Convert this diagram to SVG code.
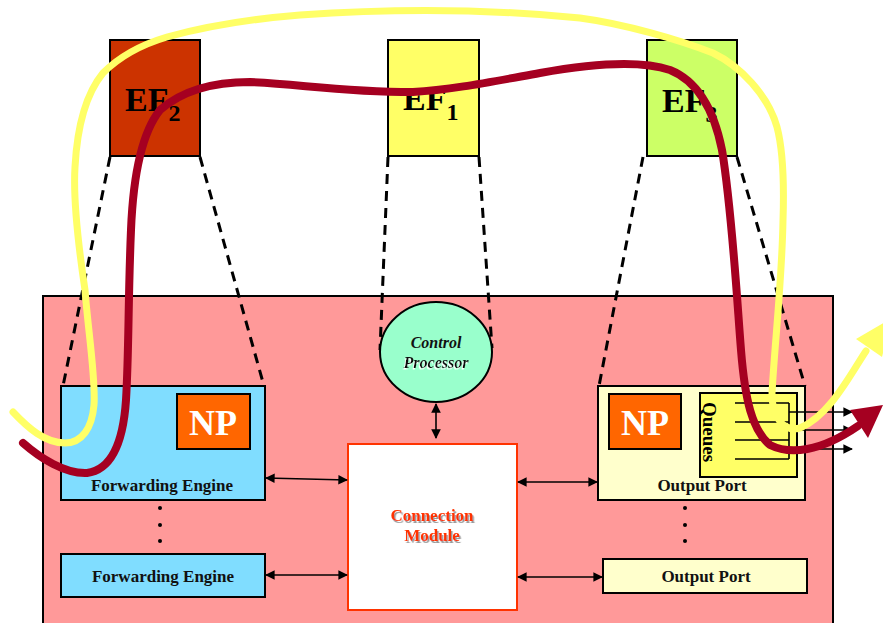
<svg xmlns="http://www.w3.org/2000/svg" width="883" height="623" viewBox="0 0 883 623">
  <style>
    .box { stroke: #000; stroke-width: 2; }
    .ef { font-family: "Liberation Serif", serif; font-weight: bold; fill: #000; }
    .lbl { font-family: "Liberation Serif", serif; font-weight: bold; font-size: 17px; fill: #111; text-anchor: middle; }
    .cm { fill: #FF3300; filter: url(#shade); }
    .cp { font-style: italic; font-size: 16px; }
    .np { font-family: "Liberation Serif", serif; font-weight: bold; font-size: 36px; fill: #fff; text-anchor: middle; }
    .dash { stroke: #000; stroke-width: 3; stroke-dasharray: 10 7; fill: none; }
    .link { stroke: #000; stroke-width: 1.6; fill: none; marker-start: url(#ah); marker-end: url(#ah); }
    .out { stroke: #000; stroke-width: 1.6; fill: none; marker-end: url(#ah); }
    .q { stroke: #000; stroke-width: 1.6; fill: none; }
    .dot { fill: #000; }
  </style>
  <defs>
    <marker id="ah" viewBox="0 0 10 10" refX="9" refY="5" markerWidth="6" markerHeight="6" orient="auto-start-reverse" markerUnits="strokeWidth">
      <path d="M0,0 L10,5 L0,10 z" fill="#000"/>
    </marker>
    <filter id="shade" x="-10%" y="-30%" width="120%" height="160%">
      <feDropShadow dx="1.5" dy="2" stdDeviation="0.4" flood-color="#999"/>
    </filter>
    <filter id="glow" x="-10%" y="-30%" width="120%" height="160%">
      <feDropShadow dx="-1" dy="1.5" stdDeviation="0.3" flood-color="#fff"/>
    </filter>
  </defs>

  <rect width="883" height="623" fill="#fff"/>

  <!-- router chassis -->
  <rect id="chassis" x="43" y="296" width="790" height="340" fill="#FF9999" stroke="#000" stroke-width="2"/>

  <!-- projection lines from the EF boxes -->
  <g id="projections">
    <line class="dash" x1="110" y1="157" x2="63" y2="386"/>
    <line class="dash" x1="200" y1="157" x2="264" y2="386"/>
    <line class="dash" x1="388" y1="157" x2="380" y2="350"/>
    <line class="dash" x1="479" y1="157" x2="492" y2="348"/>
    <line class="dash" x1="643" y1="157" x2="599" y2="386"/>
    <line class="dash" x1="737" y1="157" x2="805" y2="386"/>
  </g>

  <g id="ef2">
    <rect class="box" x="110" y="40" width="90" height="116" fill="#CC3300"/>
    <text class="ef" x="125" y="111" font-size="34">EF<tspan font-size="24" dy="10">2</tspan></text>
  </g>
  <g id="ef1">
    <rect class="box" x="388" y="40" width="91" height="116" fill="#FFFF66"/>
    <text class="ef" x="403" y="110" font-size="34">EF<tspan font-size="24" dy="10">1</tspan></text>
  </g>
  <g id="ef3">
    <rect class="box" x="647" y="40" width="90" height="116" fill="#CCFF66"/>
    <text class="ef" x="662" y="112" font-size="34">EF<tspan font-size="24" dy="10">3</tspan></text>
  </g>

  <g id="control-processor">
    <ellipse cx="436" cy="352" rx="56" ry="50" fill="#99FFCC" stroke="#000" stroke-width="2"/>
    <text class="lbl cp" x="436" y="348">Control</text>
    <text class="lbl cp" x="436" y="368" filter="url(#glow)">Processor</text>
  </g>

  <g id="connection-module">
    <rect x="348" y="444" width="169" height="166" fill="#fff" stroke="#FF3300" stroke-width="2"/>
    <text class="lbl cm" x="432" y="521">Connection</text>
    <text class="lbl cm" x="432" y="541">Module</text>
  </g>

  <g id="forwarding-engine-1">
    <rect class="box" x="61" y="386" width="204" height="114" fill="#80DDFF"/>
    <rect class="box" x="177" y="394" width="73" height="55" fill="#FF6600"/>
    <text class="np" x="213" y="435">NP</text>
    <text class="lbl" x="162" y="491">Forwarding Engine</text>
  </g>

  <g id="fe-dots">
    <circle class="dot" cx="160" cy="508" r="2"/>
    <circle class="dot" cx="160" cy="525" r="2"/>
    <circle class="dot" cx="160" cy="541" r="2"/>
  </g>

  <g id="forwarding-engine-2">
    <rect class="box" x="61" y="554" width="204" height="43" fill="#80DDFF"/>
    <text class="lbl" x="163" y="582">Forwarding Engine</text>
  </g>

  <g id="output-port-1">
    <rect class="box" x="598" y="386" width="207" height="114" fill="#FFFFCC"/>
    <rect class="box" x="609" y="394" width="72" height="55" fill="#FF6600"/>
    <text class="np" x="645" y="435">NP</text>
    <rect class="box" x="700" y="393" width="97" height="84" fill="#FFFF66"/>
    <text class="ef" font-size="19" transform="translate(703,402) rotate(90)">Queues</text>
    <path class="q" d="M735,403 H789 M735,422 H789 M735,440 H789 M735,459 H789 M789,403 V459"/>
    <text class="lbl" x="702" y="491">Output Port</text>
  </g>

  <g id="op-dots">
    <circle class="dot" cx="685" cy="508" r="2"/>
    <circle class="dot" cx="685" cy="525" r="2"/>
    <circle class="dot" cx="685" cy="541" r="2"/>
  </g>

  <g id="output-port-2">
    <rect class="box" x="603" y="559" width="204" height="34" fill="#FFFFCC"/>
    <text class="lbl" x="706" y="582">Output Port</text>
  </g>

  <g id="connectors">
    <line class="link" x1="266" y1="478" x2="347" y2="480"/>
    <line class="link" x1="266" y1="575" x2="347" y2="575"/>
    <line class="link" x1="518" y1="482" x2="597" y2="482"/>
    <line class="link" x1="518" y1="577" x2="602" y2="577"/>
    <line class="link" x1="436" y1="404" x2="436" y2="438"/>
    <line class="out" x1="789" y1="412" x2="852" y2="412"/>
    <line class="out" x1="789" y1="430" x2="852" y2="430"/>
    <line class="out" x1="789" y1="449" x2="852" y2="449"/>
  </g>

  <!-- packet paths -->
  <g id="paths" fill="none" stroke-linecap="round" stroke-linejoin="round">
    <path stroke="#FFFF66" stroke-width="7" d="M13,412 C28,428 45,443 65,443 C82,443 92,428 94,405 C96,380 88,330 85,290 C79,250 73,200 75,167 C77,130 85,95 103,73 C118,58 140,45 167,37 C200,28 250,19 300,15 C400,8 500,10 580,18 C625,24 680,40 713,53 C740,66 768,95 777,127 C783,150 784,190 783,220 C782,280 775,340 772,393 C772,420 785,432 800,428 C830,415 850,375 866,351"/>
    <polygon fill="#FFFF66" points="856,339 882,357 892,318"/>
    <path stroke="#A50021" stroke-width="8" d="M23,443 C40,458 65,474 87,473 C110,470 123,445 126,400 C129,350 128,300 131,230 C133,180 140,135 160,110 C185,88 220,82 250,82 C300,84 340,92 413,92 C450,90 490,82 540,73 C590,64 640,60 670,70 C700,82 715,115 722,150 C732,210 737,300 741,350 C745,400 752,430 770,445 C790,455 820,452 858,426"/>
    <polygon fill="#A50021" points="850,410 868,438 883,405"/>
  </g>
</svg>
